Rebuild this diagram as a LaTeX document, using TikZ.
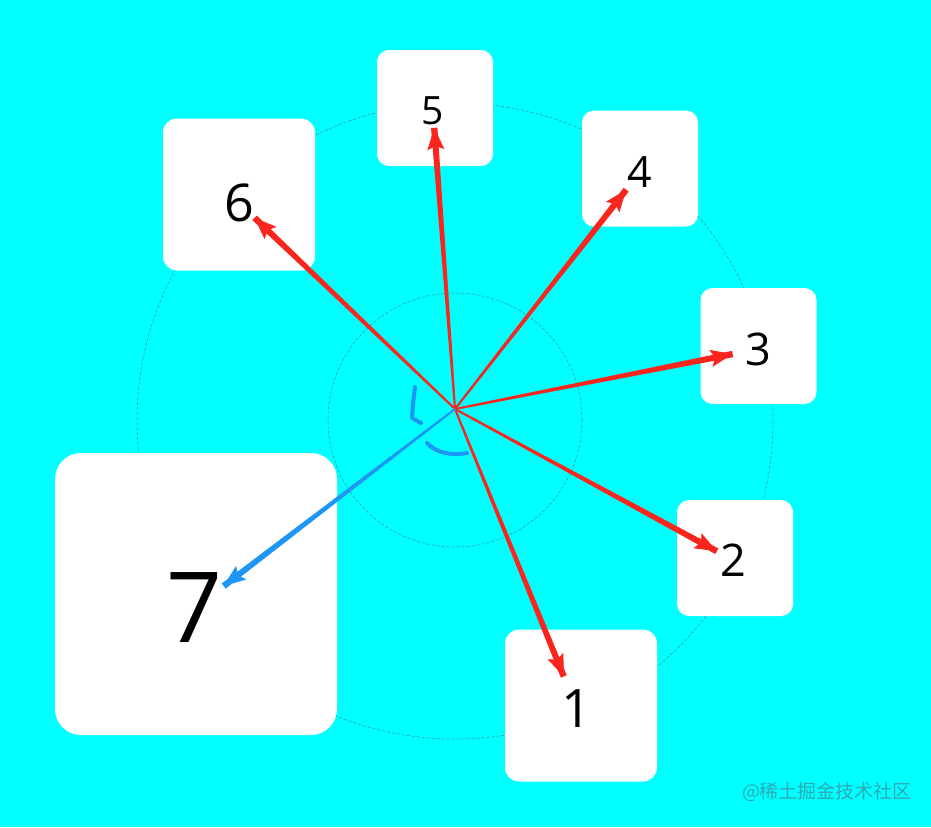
\documentclass[tikz,border=0pt]{standalone}
\usepackage{fontspec}
\setmainfont{Open Sans}
\newfontfamily\cjk{Noto Sans CJK SC}
\usepackage{tikz}
\usetikzlibrary{calc}
\usetikzlibrary{arrows.meta}

\definecolor{bgcyan}{RGB}{0,255,255}
\definecolor{spokered}{RGB}{250,38,30}
\definecolor{spokeblue}{RGB}{30,150,245}
\definecolor{ringgray}{RGB}{60,140,150}
\definecolor{marktext}{RGB}{45,170,180}

\tikzset{
  card/.style={fill=white,draw=none,rounded corners=12pt,minimum size=116pt,inner sep=0pt},
  digit/.style={inner sep=0.5pt,text=black},
  ring/.style={draw=ringgray,line width=0.5pt,dash pattern=on 3pt off 2pt}
}
\newcommand\dsize[1]{\fontsize{#1}{#1}\selectfont}
% 锥形箭头: 颜色, 目标节点, 间隙
\newcommand\spoke[3]{%
  \path (o) -- (#2) coordinate[pos=1] (sp-end);
  \coordinate (sp-tip) at ($(sp-end)!#3!(o)$);
  \fill[#1] ($(o)!1pt!90:(sp-tip)$) -- ($(sp-tip)!3.2pt!-90:(o)$)
     -- ($(sp-tip)!3.2pt!90:(o)$) -- ($(o)!1pt!-90:(sp-tip)$) -- cycle;
  \draw[#1,line width=1pt,-{Stealth[length=22pt,width=17pt,inset=4pt]}]
     ($(sp-tip)!30pt!(o)$) -- (sp-tip);
}

\begin{document}
\begin{tikzpicture}[x=1pt,y=-1pt]
    % 背景
    \fill[bgcyan] (0,0) rectangle (931,827);
    \useasboundingbox (0,0) rectangle (931,827);

    % 虚线圆
    \draw[ring] (455,421) circle (318);
    \draw[ring] (455,420) circle (127);

    % 卡片
    \node[card] (b5) at (435,108) {};
    \node[card] (b4) at (640,168.5) {};
    \node[card] (b3) at (758.5,346) {};
    \node[card] (b2) at (735,558) {};
    \node[card,minimum size=152pt,rounded corners=14pt] (b1) at (581,705.5) {};
    \node[card,minimum size=152pt,rounded corners=14pt] (b6) at (239,194.5) {};
    \node[card,minimum size=282pt,rounded corners=26pt] (b7) at (196,594) {};

    % 数字
    \node[digit] (n5) at (433,111) {\dsize{39}5};
    \node[digit] (n4) at (640,172) {\dsize{43}4};
    \node[digit] (n3) at (758,349) {\dsize{45}3};
    \node[digit] (n2) at (733,560) {\dsize{45}2};
    \node[digit] (n1) at (577,709) {\dsize{53}1};
    \node[digit] (n6) at (239,203) {\dsize{52}6};
    \node[digit] (n7) at (195,608) {\dsize{98}7};

    % 箭头
    \coordinate (o) at (455,409);
    \spoke{spokered}{n1}{14pt}
    \spoke{spokered}{n2}{3pt}
    \spoke{spokered}{n3}{12pt}
    \spoke{spokered}{n4}{2pt}
    \spoke{spokered}{n5}{2pt}
    \spoke{spokered}{n6}{0pt}
    \spoke{spokeblue}{n7}{0pt}

    % 角标记
    \draw[spokeblue,line width=4pt,line cap=round,line join=round]
        (415,387) -- (413,404) -- (412,418) -- (421,423);
    \draw[spokeblue,line width=4pt,line cap=round]
        (427,443) .. controls (436,453) and (452,456) .. (467,453);

    % 水印
    \node[text=marktext] (wm) at (827,792) {\cjk\fontsize{19}{19}\selectfont @稀土掘金技术社区};
\end{tikzpicture}
\end{document}
